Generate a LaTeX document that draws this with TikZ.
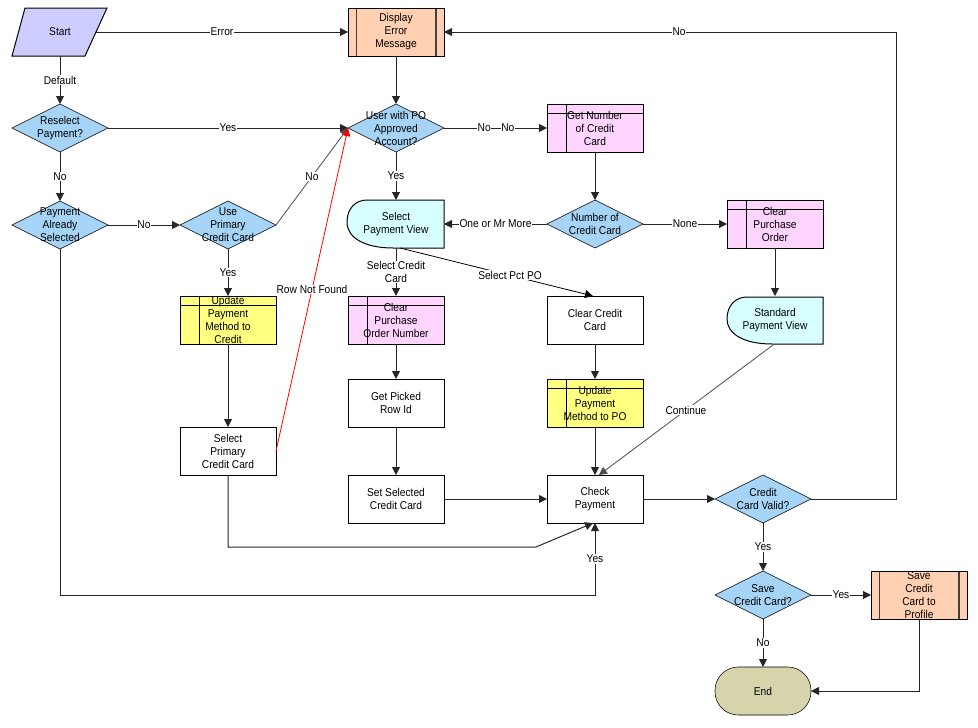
\documentclass[tikz,border=0pt]{standalone}
\usepackage{fontspec}
\setmainfont{Liberation Sans}[FakeStretch=0.9]
\usetikzlibrary{arrows.meta,shapes.geometric,calc}
\definecolor{dfill}{RGB}{166,212,246}
\definecolor{peach}{RGB}{255,208,178}
\definecolor{pinkf}{RGB}{255,212,255}
\definecolor{yellowf}{RGB}{255,255,128}
\definecolor{cyanf}{RGB}{216,255,255}
\definecolor{startf}{RGB}{204,204,255}
\definecolor{endf}{RGB}{214,212,170}
\begin{document}
\begin{tikzpicture}[x=0.75pt,y=-0.75pt,
  every node/.style={font=\fontsize{8.5}{9.75}\selectfont},
  txt/.style={align=center, inner sep=0pt},
  base/.style={rectangle, inner sep=0pt, outer sep=0pt, minimum width=72pt, minimum height=36pt},
  proc/.style={base, draw=black, fill=white},
  pre/.style={base, draw=black, fill=peach, path picture={
     \draw[black!75, line width=1pt] ([xshift=6.5pt]path picture bounding box.north west) -- ([xshift=6.5pt]path picture bounding box.south west);
     \draw[black!75, line width=1pt] ([xshift=-6pt]path picture bounding box.north east) -- ([xshift=-6pt]path picture bounding box.south east);}},
  stor/.style={base, draw=black, path picture={
     \draw ([yshift=-6.75pt]path picture bounding box.north west) -- ([yshift=-6.75pt]path picture bounding box.north east);
     \draw ([xshift=14.25pt]path picture bounding box.north west) -- ([xshift=14.25pt]path picture bounding box.south west);}},
  dec/.style={diamond, draw=black, fill=dfill, inner sep=0pt, outer sep=0pt, minimum width=72pt, minimum height=36pt},
  term/.style={base, draw=black, fill=endf, rounded corners=17.5pt},
  ghost/.style={base},
  arr/.style={draw=black!85, line width=0.75pt, -{Triangle[length=6pt,width=6pt]}},
  thinarr/.style={draw=black!70, line width=0.6pt, -{Triangle[length=6pt,width=6pt]}},
  redarr/.style={draw=red, line width=0.6pt, -{Triangle[length=6pt,width=6pt]}},
  el/.style={fill=white, inner sep=0.6pt}
]
\useasboundingbox (0,0) rectangle (978,728);

% Start shape
\filldraw[fill=startf, draw=black, line width=0.75pt] (25,8) -- (107,8) -- (85,56) -- (12,56) -- cycle;
\node[base, minimum width=54pt, label={[txt]center:Start}] (start) at (60,32) {};

% Display shapes
\filldraw[fill=cyanf, draw=black, line width=0.75pt] (367,200) -- (444,200) -- (444,248) -- (393,248)
   .. controls (365,248) and (347,238) .. (347,222) .. controls (347,208) and (356,200) .. (367,200) -- cycle;
\node[ghost, label={[txt]center:Select\\Payment View}] (spv) at (396,224) {};
\filldraw[fill=cyanf, draw=black, line width=0.75pt] (747,297) -- (823,297) -- (823,344) -- (772,344)
   .. controls (744,344) and (727,334) .. (727,319) .. controls (727,305) and (736,297) .. (747,297) -- cycle;
\node[ghost, label={[txt]center:Standard\\Payment View}] (stdv) at (775,320) {};

% Nodes
\node[pre, label={[txt]center:Display\\Error\\Message}] (dem) at (396,32) {};
\node[dec, label={[txt]center:Reselect\\Payment?}] (resel) at (60,128) {};
\node[dec, label={[txt]center:Payment\\Already\\Selected}] (pas) at (60,225) {};
\node[dec, label={[txt]center:Use\\Primary\\Credit Card}] (upc) at (228,225) {};
\node[dec, label={[txt]center:User with PO\\Approved\\Account?}] (upo) at (396,128) {};
\node[stor, fill=pinkf, label={[txt]center:Get Number\\of Credit\\Card}] (gnc) at (595,128) {};
\node[dec, label={[txt]center:Number of\\Credit Card}] (ncc) at (595,224) {};
\node[stor, fill=pinkf, label={[txt]center:Clear\\Purchase\\Order}] (cpo) at (775,224) {};
\node[stor, fill=yellowf, label={[txt]center:Update\\Payment\\Method to\\Credit}] (upmc) at (228,320) {};
\node[proc, label={[txt]center:Select\\Primary\\Credit Card}] (spcc) at (228,451) {};
\node[stor, fill=pinkf, label={[txt]center:Clear\\Purchase\\Order Number}] (cpon) at (396,320) {};
\node[proc, label={[txt]center:Get Picked\\Row Id}] (gpr) at (396,403) {};
\node[proc, label={[txt]center:Set Selected\\Credit Card}] (ssc) at (396,499) {};
\node[proc, label={[txt]center:Clear Credit\\Card}] (ccc) at (595,320) {};
\node[stor, fill=yellowf, label={[txt]center:Update\\Payment\\Method to PO}] (upmpo) at (595,403) {};
\node[proc, label={[txt]center:Check\\Payment}] (chk) at (595,499) {};
\node[dec, label={[txt]center:Credit\\Card Valid?}] (ccv) at (763,499) {};
\node[dec, label={[txt]center:Save\\Credit Card?}] (scc) at (763,595) {};
\node[pre, label={[txt]center:Save\\Credit\\Card to\\Profile}] (scp) at (919,595) {};
\node[term, label={[txt]center:End}] (end) at (763,691) {};

\coordinate (b1) at (536,547);

% Connectors
\draw[arr] (start.east) -- node[el]{Error} (dem.west);
\draw[arr] (start.south) -- node[el]{Default} (resel.north);
\draw[arr] (resel.east) -- node[el]{Yes} (upo.west);
\draw[arr] (resel.south) -- node[el]{No} (pas.north);
\draw[arr] (pas.east) -- node[el]{No} (upc.west);
\draw[thinarr] (upc.east) -- node[el]{No} (upo.west);
\draw[redarr] (spcc.east) -- node[el, pos=0.5]{Row Not Found} (upo.west);
\draw[arr] (dem.south) -- (upo.north);
\draw[arr] (upo.east) -- node[el, pos=0.39]{No} node[el, pos=0.62]{No} (gnc.west);
\draw[arr] (upo.south) -- node[el]{Yes} (spv.north);
\draw[arr] (gnc.south) -- (ncc.north);
\draw[arr] (ncc.west) -- node[el]{One or Mr More} (spv.east);
\draw[arr] (ncc.east) -- node[el]{None} (cpo.west);
\draw[arr] (cpo.south) -- (stdv.north);
\draw[arr] (spv.south) -- node[el, txt, fill=white]{Select Credit\\Card} (cpon.north);
\draw[thinarr, draw=black] ($(spv.south)+(4,0)$) -- node[el, pos=0.57]{Select Pct PO} ($(ccc.north)+(-2,0)$);
\draw[arr] (upc.south) -- node[el]{Yes} (upmc.north);
\draw[arr] (upmc.south) -- (spcc.north);
\draw[arr] (cpon.south) -- (gpr.north);
\draw[arr] (gpr.south) -- (ssc.north);
\draw[arr] (ssc.east) -- (chk.west);
\draw[arr] (ccc.south) -- (upmpo.north);
\draw[arr] (upmpo.south) -- (chk.north);
\draw[thinarr] ($(stdv.south)+(-2,1)$) -- node[el]{Continue} ($(chk.north)+(4,0)$);
\draw[arr] (spcc.south) |- (b1) -- ($(chk.south)+(-2,0)$);
\draw[arr] (pas.south) |- ($(chk.south)+(0,72)$) -- node[el]{Yes} (chk.south);
\draw[arr] (chk.east) -- (ccv.west);
\draw[arr] (ccv.east) -- ++(85,0) |- node[el, pos=0.74]{No} (dem.east);
\draw[arr] (ccv.south) -- node[el]{Yes} (scc.north);
\draw[arr] (scc.east) -- node[el]{Yes} (scp.west);
\draw[arr] (scc.south) -- node[el]{No} (end.north);
\draw[arr] (scp.south) |- (end.east);
\end{tikzpicture}
\end{document}
